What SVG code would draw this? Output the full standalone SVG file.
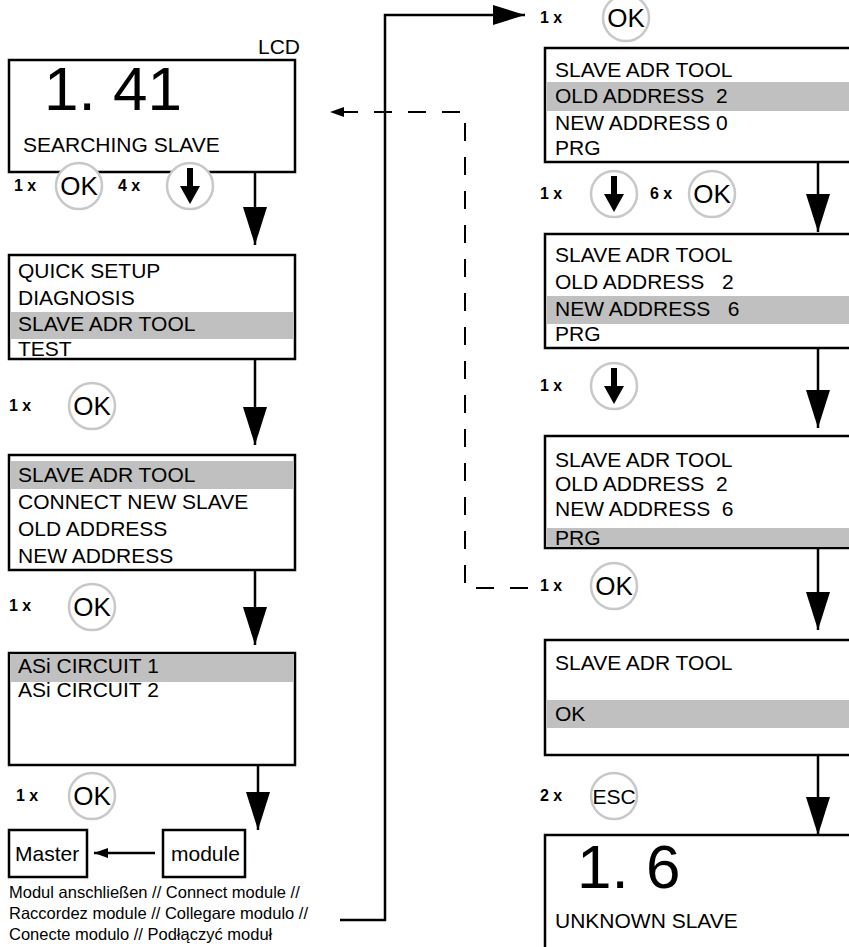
<svg xmlns="http://www.w3.org/2000/svg" xmlns:xlink="http://www.w3.org/1999/xlink" width="849" height="947" viewBox="0 0 849 947">
<style>
text{font-family:"Liberation Sans",Arial,sans-serif;fill:#000}
.box{fill:#fff;stroke:#000;stroke-width:2.5}
.hl{fill:#c0c0c0}
.t{font-size:21px}
.big{font-size:62px}
.n{font-size:16px;font-weight:bold}
.btn{fill:#fff;stroke:#c8c8c8;stroke-width:2.5}
.ok{font-size:26px;text-anchor:middle}
.esc{font-size:21px;text-anchor:middle}
.ln{fill:none;stroke:#000;stroke-width:2.5}
.ft{font-size:16.5px}
.dash{fill:none;stroke:#000;stroke-width:2;stroke-dasharray:18 16}
</style>
<defs>
<marker id="ah" markerUnits="userSpaceOnUse" viewBox="0 0 38 24" refX="38" refY="12" markerWidth="38" markerHeight="24" orient="auto"><path d="M0,0 L38,12 L0,24 z" fill="#000"/></marker>
<marker id="ahTop" markerUnits="userSpaceOnUse" viewBox="0 0 32 20" refX="32" refY="10" markerWidth="32" markerHeight="20" orient="auto"><path d="M0,0 L32,10 L0,20 z" fill="#000"/></marker>
<marker id="ahS" markerUnits="userSpaceOnUse" viewBox="0 0 14 10" refX="14" refY="5" markerWidth="14" markerHeight="10" orient="auto"><path d="M0,0 L14,5 L0,10 z" fill="#000"/></marker>
<g id="dn"><rect x="-3" y="-18" width="6" height="20" fill="#000"/><path d="M-10,0 L10,0 L0,18 z" fill="#000"/></g>
</defs>

<text x="258" y="54" class="t">LCD</text>

<g id="n1">
<rect class="box" x="9" y="60" width="286" height="112"/>
<text x="44" y="110" class="big">1. 41</text>
<text x="23" y="152" class="t">SEARCHING SLAVE</text>
</g>

<g id="s1">
<text x="14" y="191" class="n">1 x</text>
<circle class="btn" cx="79" cy="186" r="23"/><text x="79" y="195" class="ok">OK</text>
<text x="118" y="191" class="n">4 x</text>
<circle class="btn" cx="190" cy="186" r="23"/><use xlink:href="#dn" x="190" y="186"/>
</g>

<g id="n2">
<rect class="box" x="9" y="255" width="286" height="104"/>
<rect class="hl" x="10" y="312" width="284" height="27"/>
<text x="18" y="278" class="t">QUICK SETUP</text>
<text x="18" y="305" class="t">DIAGNOSIS</text>
<text x="18" y="331" class="t">SLAVE ADR TOOL</text>
<text x="18" y="356" class="t">TEST</text>
</g>

<g id="s2">
<text x="9" y="411" class="n">1 x</text>
<circle class="btn" cx="92" cy="406" r="23"/><text x="92" y="415" class="ok">OK</text>
</g>

<g id="n3">
<rect class="box" x="9" y="455" width="286" height="115"/>
<rect class="hl" x="10" y="461" width="284" height="28"/>
<text x="18" y="482" class="t">SLAVE ADR TOOL</text>
<text x="18" y="509" class="t">CONNECT NEW SLAVE</text>
<text x="18" y="536" class="t">OLD ADDRESS</text>
<text x="18" y="563" class="t">NEW ADDRESS</text>
</g>

<g id="s3">
<text x="9" y="611" class="n">1 x</text>
<circle class="btn" cx="92" cy="607" r="23"/><text x="92" y="616" class="ok">OK</text>
</g>

<g id="n4">
<rect class="box" x="9" y="653" width="286" height="112"/>
<rect class="hl" x="10" y="654" width="284" height="28"/>
<text x="18" y="673" class="t">ASi CIRCUIT 1</text>
<text x="18" y="697" class="t">ASi CIRCUIT 2</text>
</g>

<g id="s4">
<text x="16" y="801" class="n">1 x</text>
<circle class="btn" cx="92" cy="796" r="23"/><text x="92" y="805" class="ok">OK</text>
</g>

<g id="master">
<rect class="box" x="9" y="830" width="78" height="47"/>
<text x="15" y="861" class="t">Master</text>
</g>
<g id="module">
<rect class="box" x="163" y="830" width="82" height="47"/>
<text x="171" y="861" class="t">module</text>
</g>

<g id="footer">
<text x="9" y="898" class="ft">Modul anschließen // Connect module //</text>
<text x="9" y="919" class="ft">Raccordez module // Collegare modulo //</text>
<text x="9" y="940" class="ft">Conecte modulo // Podłączyć moduł</text>
</g>

<g id="r0">
<text x="540" y="23" class="n">1 x</text>
<circle class="btn" cx="626" cy="18" r="23"/><text x="626" y="27" class="ok">OK</text>
</g>

<g id="r1">
<rect class="box" x="545" y="48" width="320" height="114"/>
<rect class="hl" x="546" y="82" width="318" height="29"/>
<text x="555" y="77" class="t">SLAVE ADR TOOL</text>
<text x="555" y="103" class="t" xml:space="preserve">OLD ADDRESS  2</text>
<text x="555" y="130" class="t">NEW ADDRESS 0</text>
<text x="555" y="155" class="t">PRG</text>
</g>

<g id="rs1">
<text x="540" y="199" class="n">1 x</text>
<circle class="btn" cx="614" cy="194" r="23"/><use xlink:href="#dn" x="614" y="194"/>
<text x="650" y="199" class="n">6 x</text>
<circle class="btn" cx="712" cy="194" r="23"/><text x="712" y="203" class="ok">OK</text>
</g>

<g id="r2">
<rect class="box" x="545" y="234" width="320" height="114"/>
<rect class="hl" x="546" y="296" width="318" height="28"/>
<text x="555" y="262" class="t">SLAVE ADR TOOL</text>
<text x="555" y="289" class="t" xml:space="preserve">OLD ADDRESS   2</text>
<text x="555" y="316" class="t" xml:space="preserve">NEW ADDRESS   6</text>
<text x="555" y="341" class="t">PRG</text>
</g>

<g id="rs2">
<text x="540" y="391" class="n">1 x</text>
<circle class="btn" cx="614" cy="386" r="23"/><use xlink:href="#dn" x="614" y="386"/>
</g>

<g id="r3">
<rect class="box" x="545" y="436" width="320" height="112"/>
<rect class="hl" x="546" y="528" width="318" height="19"/>
<text x="555" y="467" class="t">SLAVE ADR TOOL</text>
<text x="555" y="491" class="t" xml:space="preserve">OLD ADDRESS  2</text>
<text x="555" y="516" class="t" xml:space="preserve">NEW ADDRESS  6</text>
<text x="555" y="545" class="t">PRG</text>
</g>

<g id="rs3">
<text x="540" y="591" class="n">1 x</text>
<circle class="btn" cx="614" cy="586" r="23"/><text x="614" y="595" class="ok">OK</text>
</g>

<g id="r4">
<rect class="box" x="545" y="640" width="320" height="115"/>
<rect class="hl" x="546" y="700" width="318" height="28"/>
<text x="555" y="670" class="t">SLAVE ADR TOOL</text>
<text x="555" y="721" class="t">OK</text>
</g>

<g id="rs4">
<text x="540" y="801" class="n">2 x</text>
<circle class="btn" cx="614" cy="796" r="23"/><text x="614" y="804" class="esc">ESC</text>
</g>

<g id="r5">
<rect class="box" x="545" y="835" width="320" height="130"/>
<text x="577" y="888" class="big">1. 6</text>
<text x="555" y="928" class="t">UNKNOWN SLAVE</text>
</g>

<g id="connectors">
<line class="ln" x1="255" y1="172" x2="255" y2="245" marker-end="url(#ah)"/>
<line class="ln" x1="255" y1="359" x2="255" y2="445" marker-end="url(#ah)"/>
<line class="ln" x1="255" y1="570" x2="255" y2="645" marker-end="url(#ah)"/>
<line class="ln" x1="258" y1="765" x2="258" y2="830" marker-end="url(#ah)"/>
<line class="ln" x1="155" y1="853" x2="94" y2="853" stroke-width="2" marker-end="url(#ahS)"/>
<polyline class="ln" stroke-width="1.5" points="340,920 385,920 385,15 525,15" marker-end="url(#ahTop)"/>
<polyline class="dash" points="528,588 465,588 465,112 330,112" marker-end="url(#ahS)"/>
<line class="ln" x1="818" y1="162" x2="818" y2="232" marker-end="url(#ah)"/>
<line class="ln" x1="818" y1="348" x2="818" y2="428" marker-end="url(#ah)"/>
<line class="ln" x1="818" y1="548" x2="818" y2="630" marker-end="url(#ah)"/>
<line class="ln" x1="818" y1="755" x2="818" y2="835" marker-end="url(#ah)"/>
</g>
</svg>
